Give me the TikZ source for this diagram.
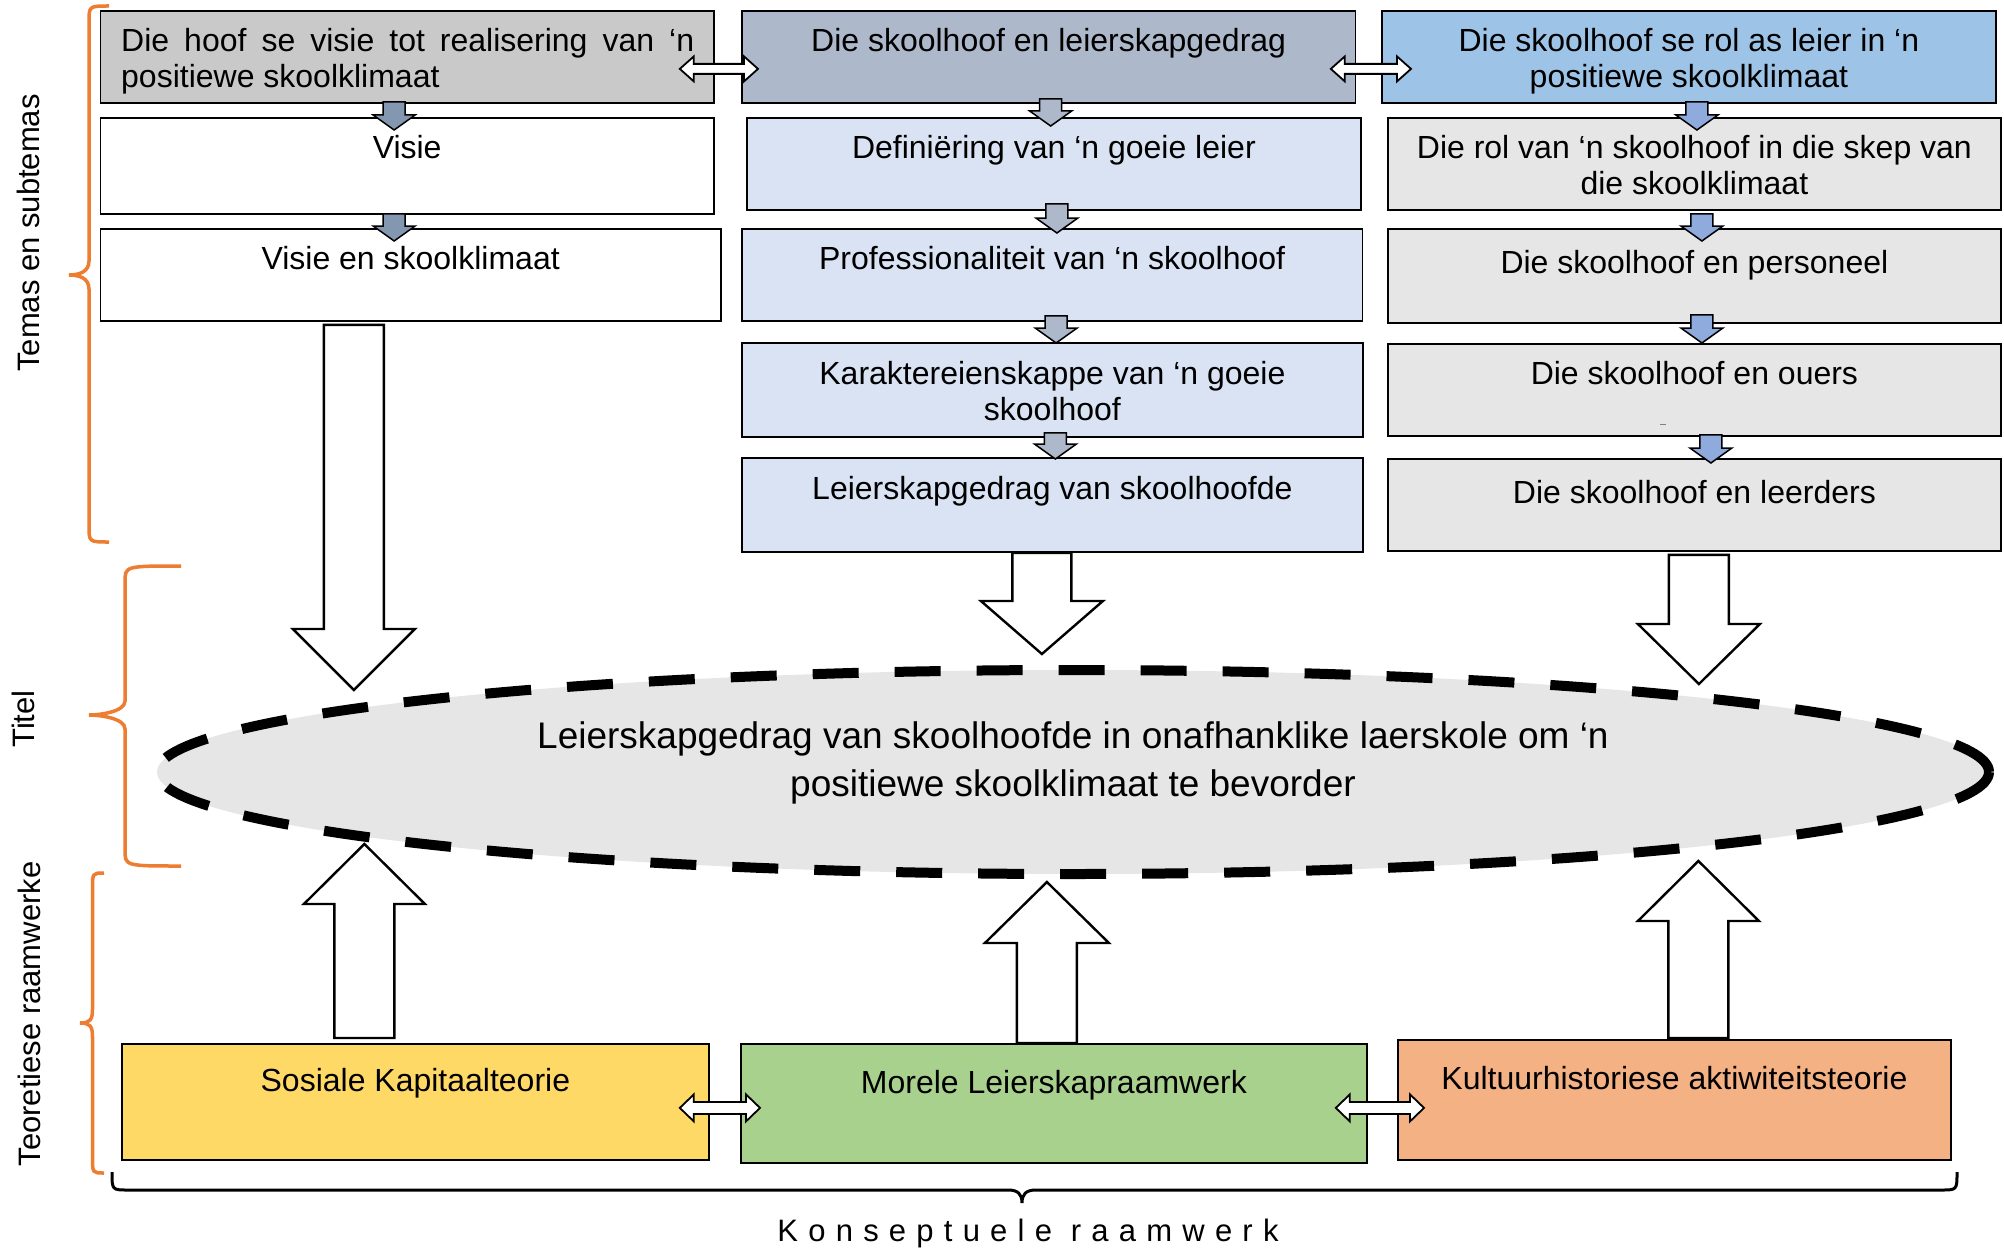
\documentclass[tikz,border=0pt]{standalone}
\usepackage{fontspec}
\setmainfont{Liberation Sans}
\newfontfamily\spacedfont[LetterSpace=33]{Liberation Sans}
\usetikzlibrary{calc,shapes.geometric}
\definecolor{grayA}{HTML}{C9C9C9}
\definecolor{slateB}{HTML}{ADB9CA}
\definecolor{blueC}{HTML}{9DC3E6}
\definecolor{lightB}{HTML}{DAE3F3}
\definecolor{lightC}{HTML}{E7E6E6}
\definecolor{arrA}{HTML}{8497B0}
\definecolor{arrB}{HTML}{ADB9CA}
\definecolor{arrC}{HTML}{8FAADC}
\definecolor{ellgray}{HTML}{E6E6E6}
\definecolor{yel}{HTML}{FFD966}
\definecolor{grn}{HTML}{A9D18E}
\definecolor{org}{HTML}{F4B183}
\definecolor{bracecol}{HTML}{ED7D31}
% block arrow pointing down (page): #1 top point, #2 point giving tip y
\newcommand\downblk[6]{\draw[#6] let \p1=#1, \p2=#2 in
  (\x1-#3,\y1) -- (\x1+#3,\y1) -- (\x1+#3,\y2+#5) -- (\x1+#4,\y2+#5) -- (\x1,\y2)
  -- (\x1-#4,\y2+#5) -- (\x1-#3,\y2+#5) -- cycle;}
% block arrow pointing up (page)
\newcommand\upblk[6]{\draw[#6] let \p1=#1, \p2=#2 in
  (\x1-#3,\y1) -- (\x1+#3,\y1) -- (\x1+#3,\y2-#5) -- (\x1+#4,\y2-#5) -- (\x1,\y2)
  -- (\x1-#4,\y2-#5) -- (\x1-#3,\y2-#5) -- cycle;}
% horizontal double block arrow
\newcommand\hdbl[6]{\draw[#6] let \p1=#1, \p2=#2 in
  (\x1,\y1) -- (\x1+#5,\y1+#4) -- (\x1+#5,\y1+#3) -- (\x2-#5,\y1+#3) -- (\x2-#5,\y1+#4)
  -- (\x2,\y1) -- (\x2-#5,\y1-#4) -- (\x2-#5,\y1-#3) -- (\x1+#5,\y1-#3) -- (\x1+#5,\y1-#4) -- cycle;}
% orange left brace: #1 x vertical, #2 x hook end, #3 x tip, #4 y top, #5 y tip, #6 y bottom
\newcommand\obrace[6]{\draw[bracecol, line width=3.5pt]
  (#2,#4) .. controls (#1,#4) and (#1,#4) .. (#1,#4+16) -- (#1,#5-14)
  .. controls (#1,#5-3) and (#3+10,#5) .. (#3,#5)
  .. controls (#3+10,#5) and (#1,#5+3) .. (#1,#5+14) -- (#1,#6-16)
  .. controls (#1,#6) and (#1,#6) .. (#2,#6);}
\begin{document}
\begin{tikzpicture}[x=1pt,y=-1pt,
  box/.style={draw=black, line width=1.8pt, rectangle, inner sep=0pt, anchor=north west},
  boxtxt/.style={anchor=north, inner sep=0pt, align=center, font=\fontsize{32}{36}\selectfont},
  sidetxt/.style={rotate=90, inner sep=0pt, font=\fontsize{31}{36}\selectfont},
  sarrA/.style={fill=arrA, draw=black, line width=1.5pt, line join=miter},
  sarrB/.style={fill=arrB, draw=black, line width=1.5pt, line join=miter},
  sarrC/.style={fill=arrC, draw=black, line width=1.5pt, line join=miter},
  bigarr/.style={fill=white, draw=black, line width=2.4pt, line join=miter},
  dblarr/.style={fill=white, draw=black, line width=1.8pt, line join=miter}]
\useasboundingbox (0,0) rectangle (2004,1252);
\fill[white] (0,0) rectangle (2004,1252);

% ---- column A
\node[box, fill=grayA, minimum width=613.5pt, minimum height=92pt] (a1) at (99.5,10) {};
\node[box, fill=white, minimum width=613.5pt, minimum height=96pt] (a2) at (99.5,117) {};
\node[box, fill=white, minimum width=620.5pt, minimum height=92pt] (a3) at (99.5,228) {};
% ---- column B
\node[box, fill=slateB, minimum width=613.5pt, minimum height=92pt] (b1) at (741,10) {};
\node[box, fill=lightB, minimum width=614pt, minimum height=92pt] (b2) at (746,117) {};
\node[box, fill=lightB, minimum width=620.5pt, minimum height=92pt] (b3) at (741,228) {};
\node[box, fill=lightB, minimum width=621pt, minimum height=94pt] (b4) at (741,342) {};
\node[box, fill=lightB, minimum width=621pt, minimum height=94pt] (b5) at (741,457) {};
% ---- column C
\node[box, fill=blueC, minimum width=614pt, minimum height=92pt] (c1) at (1381,10) {};
\node[box, fill=lightC, minimum width=613pt, minimum height=92pt] (c2) at (1387,117) {};
\node[box, fill=lightC, minimum width=613pt, minimum height=94pt] (c3) at (1387,228) {};
\node[box, fill=lightC, minimum width=613pt, minimum height=92pt] (c4) at (1387,343) {};
\node[box, fill=lightC, minimum width=613pt, minimum height=92pt] (c5) at (1387,458) {};
% ---- bottom boxes
\node[box, fill=yel, minimum width=587pt, minimum height=116pt] (yb) at (121,1043) {};
\node[box, fill=grn, minimum width=626pt, minimum height=119pt] (gb) at (740,1043) {};
\node[box, fill=org, minimum width=553pt, minimum height=120pt] (ob) at (1397,1039) {};

% ---- texts in boxes
\node[boxtxt, anchor=north west, align=left] (ta1) at ([shift={(21.5,18)}]a1.north west)
  {\hbox to 573pt{Die\hfill hoof\hfill se\hfill visie\hfill tot\hfill realisering\hfill van\hfill ‘n}\\positiewe skoolklimaat};
\node[boxtxt] (ta2) at ([yshift=-18pt]a2.north) {Visie};
\node[boxtxt] (ta3) at ([yshift=-18pt]a3.north) {Visie en skoolklimaat};
\node[boxtxt] (tb1) at ([yshift=-18pt]b1.north) {Die skoolhoof en leierskapgedrag};
\node[boxtxt] (tb2) at ([yshift=-18pt]b2.north) {Definiëring van ‘n goeie leier};
\node[boxtxt] (tb3) at ([yshift=-18pt]b3.north) {Professionaliteit van ‘n skoolhoof};
\node[boxtxt] (tb4) at ([yshift=-19pt]b4.north) {Karaktereienskappe van ‘n goeie\\skoolhoof};
\node[boxtxt] (tb5) at ([yshift=-19pt]b5.north) {Leierskapgedrag van skoolhoofde};
\node[boxtxt] (tc1) at ([yshift=-18pt]c1.north) {Die skoolhoof se rol as leier in ‘n\\positiewe skoolklimaat};
\node[boxtxt] (tc2) at ([yshift=-18pt]c2.north) {Die rol van ‘n skoolhoof in die skep van\\die skoolklimaat};
\node[boxtxt] (tc3) at ([yshift=-22pt]c3.north) {Die skoolhoof en personeel};
\node[boxtxt] (tc4) at ([yshift=-18pt]c4.north) {Die skoolhoof en ouers};
\node[boxtxt] (tc5) at ([yshift=-22pt]c5.north) {Die skoolhoof en leerders};
\node[boxtxt] (tyb) at ([yshift=-25pt]yb.north) {Sosiale Kapitaalteorie};
\node[boxtxt] (tgb) at ([yshift=-27pt]gb.north) {Morele Leierskapraamwerk};
\node[boxtxt] (tob) at ([yshift=-27pt]ob.north) {Kultuurhistoriese aktiwiteitsteorie};
\draw[gray, line width=1pt] (1660,424) -- (1666,424);

% ---- small down arrows
\downblk{([xshift=-13pt,yshift=2pt]a1.south)}{([yshift=-13pt]a2.north)}{11pt}{21pt}{15pt}{sarrA}
\downblk{([xshift=-13pt,yshift=1pt]a2.south)}{([yshift=-13pt]a3.north)}{11pt}{21pt}{15pt}{sarrA}
\downblk{([xshift=2pt,yshift=5pt]b1.south)}{([yshift=-9pt]b2.north)}{11pt}{21pt}{15pt}{sarrB}
\downblk{([xshift=3pt,yshift=7pt]b2.south)}{([yshift=-5pt]b3.north)}{11pt}{21pt}{15pt}{sarrB}
\downblk{([xshift=4pt,yshift=6pt]b3.south)}{([yshift=-1pt]b4.north)}{11pt}{21pt}{15pt}{sarrB}
\downblk{([xshift=3pt,yshift=5pt]b4.south)}{([yshift=-2pt]b5.north)}{11pt}{21pt}{15pt}{sarrB}
\downblk{([xshift=8pt,yshift=2pt]c1.south)}{([yshift=-13pt]c2.north)}{11pt}{21pt}{15pt}{sarrC}
\downblk{([xshift=7.5pt,yshift=-3pt]c2.south)}{([yshift=-13pt]c3.north)}{11pt}{21pt}{15pt}{sarrC}
\downblk{([xshift=7.5pt,yshift=9pt]c3.south)}{([yshift=0pt]c4.north)}{11pt}{21pt}{15pt}{sarrC}
\downblk{([xshift=16.5pt,yshift=2pt]c4.south)}{([yshift=-5pt]c5.north)}{11pt}{21pt}{15pt}{sarrC}

% ---- horizontal double arrows
\hdbl{([shift={(-35,12)}]a1.east)}{([shift={(17,12)}]b1.west)}{5pt}{12.5pt}{14pt}{dblarr}
\hdbl{([shift={(-25.5,12)}]b1.east)}{([shift={(30,12)}]c1.west)}{5pt}{12.5pt}{14pt}{dblarr}
\hdbl{([shift={(-30,6)}]yb.east)}{([shift={(20,6)}]gb.west)}{6pt}{13.5pt}{14pt}{dblarr}
\hdbl{([shift={(-32,4.5)}]gb.east)}{([shift={(27,4.5)}]ob.west)}{6pt}{13.5pt}{14pt}{dblarr}

% ---- central ellipse
\node[ellipse, draw=black, fill=ellgray, line width=10pt, dash pattern=on 46pt off 36pt,
  minimum width=1832pt, minimum height=204pt, inner sep=0pt] (ell) at (1073,772) {};
\node[inner sep=0pt, align=center, font=\fontsize{37}{48}\selectfont] (tell) at (1073,763)
  {Leierskapgedrag van skoolhoofde in onafhanklike laerskole om ‘n\\positiewe skoolklimaat te bevorder};

% ---- big arrows
\coordinate (tipA) at (354,690);
\coordinate (tipB) at (1041,654);
\coordinate (tipC) at (1698,684);
\downblk{([xshift=-56.75pt,yshift=-3pt]a3.south)}{(tipA)}{30pt}{61pt}{61pt}{bigarr}
\downblk{([xshift=-10.5pt]b5.south)}{(tipB)}{29.5pt}{61pt}{53pt}{bigarr}
\downblk{([xshift=4.5pt,yshift=-3pt]c5.south)}{(tipC)}{30pt}{61pt}{60pt}{bigarr}
\coordinate (tipY) at (363.5,844);
\coordinate (tipG) at (1045,882);
\coordinate (tipO) at (1697.5,861);
\upblk{([xshift=-51pt,yshift=5pt]yb.north)}{(tipY)}{30pt}{60.5pt}{60pt}{bigarr}
\upblk{([xshift=-7pt]gb.north)}{(tipG)}{30pt}{62pt}{61pt}{bigarr}
\upblk{([xshift=24pt,yshift=1pt]ob.north)}{(tipO)}{30pt}{60.5pt}{60pt}{bigarr}

% ---- braces
\obrace{89}{109}{69}{6}{275}{542}
\obrace{125}{181}{89}{566}{715}{866}
\obrace{92.5}{104}{80}{873}{1023}{1173}
\draw[black, line width=3pt]
  (112,1172) .. controls (112,1190) and (112,1190) .. (128,1190) -- (1008,1190)
  .. controls (1018,1190) and (1022,1194) .. (1022,1203)
  .. controls (1022,1194) and (1026,1190) .. (1036,1190) -- (1941,1190)
  .. controls (1957,1190) and (1957,1190) .. (1957,1172);

% ---- side labels
\node[sidetxt] (ltemas) at (28,233) {Temas en subtemas};
\node[sidetxt] (ltitel) at (23,719) {Titel};
\node[sidetxt] (lteor) at (29,1014) {Teoretiese raamwerke};
\node[inner sep=0pt, font=\spacedfont\fontsize{31}{36}\selectfont] (lkons) at (1028,1233) {Konseptuele raamwerk};
\end{tikzpicture}
\end{document}
